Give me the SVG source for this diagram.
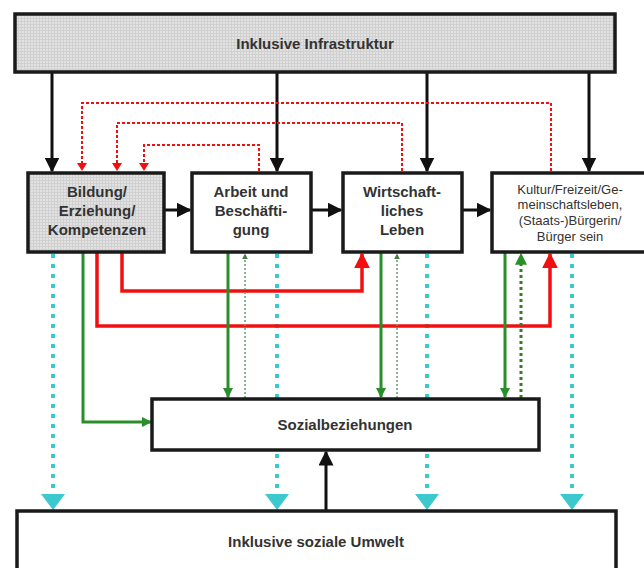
<svg xmlns="http://www.w3.org/2000/svg" width="644" height="568" viewBox="0 0 644 568">
<style>
.box{stroke:#1a1a1a;stroke-width:3.5;fill:#fff}
.gray{fill:url(#grid)}
.lbl{font-family:"Liberation Sans",Arial,sans-serif;font-weight:bold;font-size:15px;fill:#333;text-anchor:middle}
.sm{font-family:"Liberation Sans",Arial,sans-serif;font-size:13px;fill:#333;text-anchor:middle}
.blk{stroke:#111;stroke-width:3;fill:none;marker-end:url(#ab)}
.rd{stroke:#f01010;stroke-width:2;stroke-dasharray:3 2;fill:none}
.rs{stroke:#f01010;stroke-width:3.5;fill:none;marker-end:url(#ar)}
.gs{stroke:#2a8f2a;stroke-width:3;fill:none;marker-end:url(#ag)}
.gd{stroke:#6a9a6a;stroke-width:1.5;stroke-dasharray:2 2;fill:none;marker-end:url(#agd)}
.gd2{stroke:#3a7a2a;stroke-width:3;stroke-dasharray:3 3;fill:none;marker-end:url(#ag2)}
.cy{stroke:#3cc8cc;stroke-width:4;stroke-dasharray:4 6;fill:none}
</style>
<defs>
<pattern id="grid" width="3" height="3" patternUnits="userSpaceOnUse">
<rect width="3" height="3" fill="#e2e2e2"/>
<path d="M0 0.5H3M0.5 0V3" stroke="#d0d0d0" stroke-width="1"/>
</pattern>
<marker id="ab" viewBox="0 0 10 10" refX="9" refY="5" markerWidth="5" markerHeight="5" orient="auto" markerUnits="strokeWidth"><path d="M0 0L10 5L0 10Z" fill="#111"/></marker>
<marker id="ar" viewBox="0 0 10 10" refX="9" refY="5" markerWidth="4.5" markerHeight="4.5" orient="auto" markerUnits="strokeWidth"><path d="M0 0L10 5L0 10Z" fill="#f01010"/></marker>
<marker id="ard" viewBox="0 0 10 10" refX="9" refY="5" markerWidth="5" markerHeight="5" orient="auto" markerUnits="strokeWidth"><path d="M0 0L10 5L0 10Z" fill="#f01010"/></marker>
<marker id="ag" viewBox="0 0 10 10" refX="9" refY="5" markerWidth="3.5" markerHeight="3.5" orient="auto" markerUnits="strokeWidth"><path d="M0 0L10 5L0 10Z" fill="#2a8f2a"/></marker>
<marker id="agd" viewBox="0 0 10 10" refX="9" refY="5" markerWidth="4" markerHeight="4" orient="auto" markerUnits="strokeWidth"><path d="M0 0L10 5L0 10Z" fill="#4a7a4a"/></marker>
<marker id="ag2" viewBox="0 0 10 10" refX="9" refY="5" markerWidth="4" markerHeight="4" orient="auto" markerUnits="strokeWidth"><path d="M0 0L10 5L0 10Z" fill="#2a8f2a"/></marker>
<marker id="ac" viewBox="0 0 10 10" refX="10" refY="5" markerWidth="4.5" markerHeight="6" orient="auto" markerUnits="strokeWidth"><path d="M0 0L10 5L0 10Z" fill="#3cc8cc"/></marker>
</defs>
<g id="connectors">
<!-- cyan dotted -->
<path class="cy" d="M53 254V494"/>
<path class="cy" d="M277 254V494"/>
<path class="cy" d="M427 254V494"/>
<path class="cy" d="M572 254V494"/>
<path d="M41 494H65L53 510Z" fill="#3cc8cc"/>
<path d="M265 494H289L277 510Z" fill="#3cc8cc"/>
<path d="M415 494H439L427 510Z" fill="#3cc8cc"/>
<path d="M560 494H584L572 510Z" fill="#3cc8cc"/>
<!-- black from top -->
<path class="blk" d="M52 73V171"/>
<path class="blk" d="M277 73V171"/>
<path class="blk" d="M427 73V171"/>
<path class="blk" d="M589 73V171"/>
<!-- black between boxes -->
<path class="blk" d="M164 210H190"/>
<path class="blk" d="M311 210H341"/>
<path class="blk" d="M462 210H490"/>
<!-- red dotted -->
<path class="rd" d="M551 171V103H82V164"/>
<path class="rd" d="M402 171V123H117V164"/>
<path class="rd" d="M259 171V145H144V164"/>
<path d="M77 163H87L82 171Z" fill="#f01010"/>
<path d="M112 163H122L117 171Z" fill="#f01010"/>
<path d="M139 163H149L144 171Z" fill="#f01010"/>
<!-- red solid -->
<path class="rs" d="M97 253V326H550V254"/>
<path class="rs" d="M122 253V291H362V254"/>
<!-- green -->
<path class="gs" d="M83 253V422H151"/>
<path class="gs" d="M228 253V397"/>
<path class="gs" d="M381 253V397"/>
<path class="gs" d="M505 253V397"/>
<path class="gd" d="M245 398V254"/>
<path class="gd" d="M397 398V254"/>
<path class="gd2" d="M521 398V254"/>
<!-- black up -->
<path class="blk" d="M326 510V452"/>
</g>
<g id="infrastruktur">
<rect class="box gray" x="15" y="14" width="600" height="58"/>
<text class="lbl" x="315" y="49">Inklusive Infrastruktur</text>
</g>
<g id="bildung">
<rect class="box gray" x="28" y="173" width="136" height="79"/>
<text class="lbl" x="97" y="197">Bildung/</text>
<text class="lbl" x="97" y="216">Erziehung/</text>
<text class="lbl" x="97" y="235">Kompetenzen</text>
</g>
<g id="arbeit">
<rect class="box" x="192" y="173" width="119" height="79"/>
<text class="lbl" x="251" y="197">Arbeit und</text>
<text class="lbl" x="251" y="216">Beschäfti-</text>
<text class="lbl" x="251" y="235">gung</text>
</g>
<g id="wirtschaft">
<rect class="box" x="343" y="173" width="119" height="79"/>
<text class="lbl" x="402" y="197">Wirtschaft-</text>
<text class="lbl" x="402" y="216">liches</text>
<text class="lbl" x="402" y="235">Leben</text>
</g>
<g id="kultur">
<rect class="box" x="492" y="173" width="160" height="79"/>
<text class="sm" x="570" y="194">Kultur/Freizeit/Ge-</text>
<text class="sm" x="570" y="209">meinschaftsleben,</text>
<text class="sm" x="570" y="225">(Staats-)Bürgerin/</text>
<text class="sm" x="570" y="241">Bürger sein</text>
</g>
<g id="sozial">
<rect class="box" x="152" y="399" width="387" height="51"/>
<text class="lbl" x="345" y="430">Sozialbeziehungen</text>
</g>
<g id="umwelt">
<rect class="box" x="17" y="511" width="599" height="70"/>
<text class="lbl" x="316" y="547">Inklusive soziale Umwelt</text>
</g>
</svg>
